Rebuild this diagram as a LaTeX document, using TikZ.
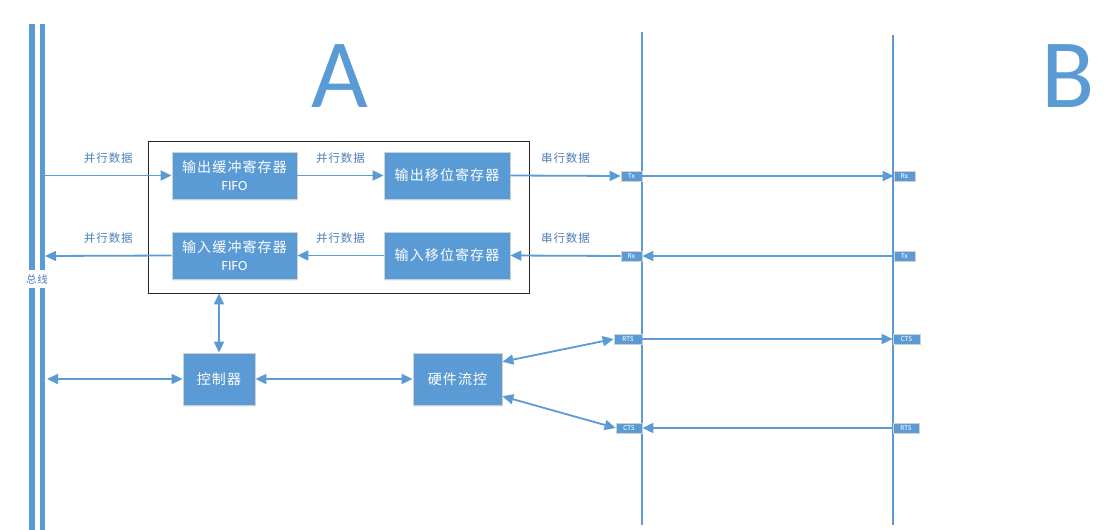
\documentclass[tikz,border=0pt]{standalone}
\usepackage{fontspec}
\setmainfont{Carlito}
\newfontfamily\cjk[LetterSpace=8]{Noto Sans CJK SC}
\usetikzlibrary{arrows.meta,shadows}
\definecolor{boxblue}{HTML}{5B9BD5}
\definecolor{lineblue}{HTML}{5B9BD5}
\definecolor{txtblue}{HTML}{4A7EBB}
\tikzset{
  blk/.style={draw=black!18, line width=0.8pt, fill=boxblue, text=white, inner sep=0pt, align=center,
    font=\cjk\fontsize{14}{18}\selectfont, drop shadow={opacity=0.12,shadow xshift=1pt,shadow yshift=-2pt}},
  tag/.style={draw=black!18, line width=0.7pt, fill=boxblue, text=white, inner sep=0pt,
    minimum height=10pt, font=\fontsize{7.5}{7.5}\selectfont},
  sig/.style={lineblue, line width=1.8pt, -{Triangle[length=11pt,width=10pt]}},
  dsig/.style={lineblue, line width=1.8pt, {Triangle[length=11pt,width=10pt]}-{Triangle[length=11pt,width=10pt]}},
  lbl/.style={midway, yshift=17.5pt, text=txtblue, font=\cjk\fontsize{11.5}{11.5}\selectfont},
}

\begin{document}
\begin{tikzpicture}[x=1pt,y=-1pt]
\useasboundingbox (0,0) rectangle (1119,530);
% bus
\draw[boxblue,line width=5.5pt] (32,24) -- (32,270) (32,288) -- (32,530);
\draw[boxblue,line width=5.5pt] (42.5,24) -- (42.5,270) (42.5,288) -- (42.5,530);
\node[text=txtblue,font=\cjk\fontsize{10.5}{10.5}\selectfont] (busl) at (37,279) {总线};
\coordinate (bus1) at (45,175.5);
\coordinate (bus2) at (45,256);
\coordinate (bus3) at (47,379);
% side B lines
\draw[lineblue,line width=1.4pt] (642,32) -- (642,525);
\draw[lineblue,line width=1.4pt] (893,35) -- (893,525);
\node[text=boxblue,font=\fontsize{98}{98}\selectfont] (sideA) at (340,76.5) {A};
\node[text=boxblue,font=\fontsize{98}{98}\selectfont] (sideB) at (1068,76.5) {B};

% frame and blocks
\node[draw=black!85, line width=0.9pt, minimum width=381pt, minimum height=152pt, inner sep=0pt] (frame) at (338.5,217) {};
\node[blk, minimum width=125pt, minimum height=47pt] (ofifo) at (234.5,175.5) {输出缓冲寄存器\\{\rmfamily FIFO}};
\node[blk, minimum width=125pt, minimum height=47pt] (ififo) at (234.5,255.5) {输入缓冲寄存器\\{\rmfamily FIFO}};
\node[blk, minimum width=126pt, minimum height=47pt] (oshift) at (447,175.5) {输出移位寄存器};
\node[blk, minimum width=126pt, minimum height=47pt] (ishift) at (447,255.5) {输入移位寄存器};
\node[blk, minimum width=72pt, minimum height=52pt] (ctrl) at (219,379) {控制器};
\node[blk, minimum width=89pt, minimum height=52pt] (hwfc) at (457.5,379) {硬件流控};

% tags
\node[tag, minimum width=21pt] (txA) at (631.5,176) {Tx};
\node[tag, minimum width=21pt] (rxA) at (631.5,256) {Rx};
\node[tag, minimum width=21pt] (rxB) at (904.5,176) {Rx};
\node[tag, minimum width=21pt] (txB) at (904.5,256) {Tx};
\node[tag, minimum width=28pt] (rtsA) at (628,339) {RTS};
\node[tag, minimum width=27pt] (ctsB) at (906.5,339) {CTS};
\node[tag, minimum width=26pt] (ctsA) at (629,428) {CTS};
\node[tag, minimum width=26pt] (rtsB) at (906,428) {RTS};

% data paths
\draw[sig] (bus1) -- (ofifo.west) node[lbl]{并行数据};
\draw[sig] (ofifo.east) -- (oshift.west) node[lbl]{并行数据};
\draw[sig] (oshift.east) -- (txA.west) node[lbl]{串行数据};
\draw[sig] (txA.east) -- (rxB.west);
\draw[sig] (txB.west) -- (rxA.east);
\draw[sig] (rxA.west) -- (ishift.east) node[lbl]{串行数据};
\draw[sig] (ishift.west) -- (ififo.east) node[lbl]{并行数据};
\draw[sig] (ififo.west) -- (bus2) node[lbl]{并行数据};

% control
\draw[dsig] (ctrl.north |- frame.south) -- (ctrl.north);
\draw[dsig] (bus3) -- (ctrl.west);
\draw[dsig] (ctrl.east) -- (hwfc.west);
\draw[dsig] (hwfc.21) -- (rtsA.west);
\draw[dsig] (hwfc.-21) -- (ctsA.west);
\draw[sig] (rtsA.east) -- (ctsB.west);
\draw[sig] (rtsB.west) -- (ctsA.east);
\end{tikzpicture}
\end{document}
